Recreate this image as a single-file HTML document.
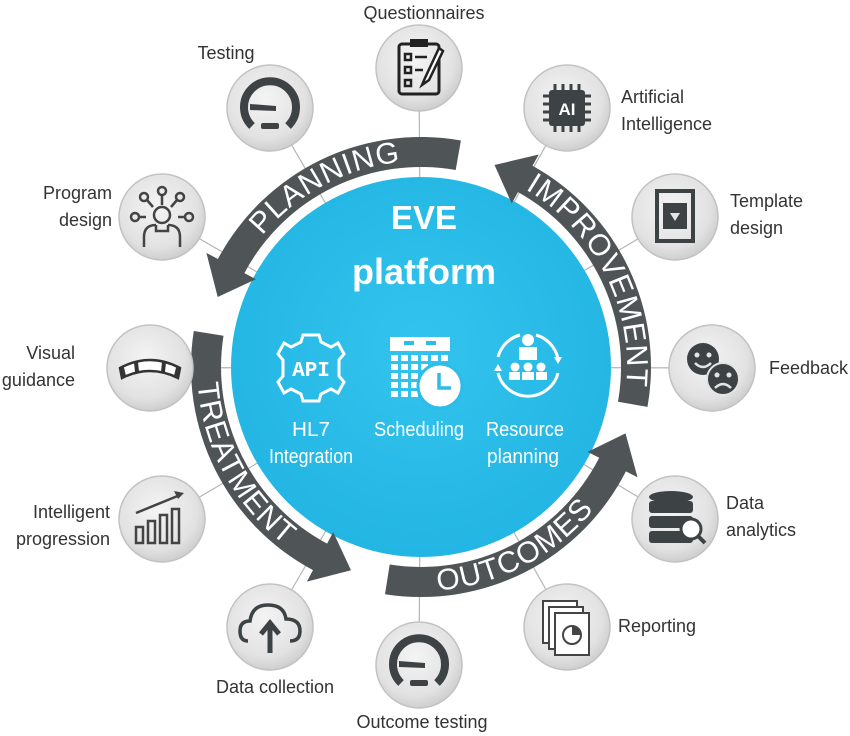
<!DOCTYPE html>
<html><head><meta charset="utf-8"><style>
html,body{margin:0;padding:0;background:#fff;width:850px;height:736px;overflow:hidden}
svg{display:block}
.lb{font-family:"Liberation Sans Narrow","Liberation Sans",sans-serif;font-size:18px;fill:#333}
.w{font-family:"Liberation Sans Narrow","Liberation Sans",sans-serif;font-size:20px;fill:#fff}
.arcT{font-family:"Liberation Sans",sans-serif;font-size:30px;fill:#fff;letter-spacing:1px}
</style></head><body>
<svg width="850" height="736" viewBox="0 0 850 736" xmlns="http://www.w3.org/2000/svg">
<defs>
<radialGradient id="gc" cx="45%" cy="40%" r="65%"><stop offset="0" stop-color="#f4f4f4"/><stop offset="0.7" stop-color="#e2e2e2"/><stop offset="1" stop-color="#c8c8c8"/></radialGradient>
<radialGradient id="bc" cx="50%" cy="45%" r="60%"><stop offset="0" stop-color="#33c4ee"/><stop offset="1" stop-color="#22b4e2"/></radialGradient>
<path id="tp1"/><path id="tp2"/><path id="tp3"/><path id="tp4"/>
</defs>
<g stroke="#b5b5b5" stroke-width="1.2" id="lines"></g>
<circle cx="421" cy="367" r="190" fill="url(#bc)"/>
<g id="arrows" fill="#4f5456"></g>
<text class="arcT"><textPath href="#tp1" startOffset="50%" text-anchor="middle">PLANNING</textPath></text>
<text class="arcT"><textPath href="#tp2" startOffset="50%" text-anchor="middle">IMPROVEMENT</textPath></text>
<text class="arcT"><textPath href="#tp3" startOffset="50%" text-anchor="middle">TREATMENT</textPath></text>
<text class="arcT"><textPath href="#tp4" startOffset="50%" text-anchor="middle">OUTCOMES</textPath></text>
<g id="circs"></g>

<text x="424" y="229" text-anchor="middle" font-family="Liberation Sans,sans-serif" font-weight="bold" font-size="33" fill="#fff">EVE</text>
<text x="424" y="284" text-anchor="middle" font-family="Liberation Sans,sans-serif" font-weight="bold" font-size="36" fill="#fff">platform</text>

<g transform="translate(311,368)" fill="none" stroke="#fff" stroke-width="3">
<path d="M-8,-33 L8,-33 L10,-26 L20,-21 L27,-25 L33,-14 L28,-8 L28,8 L33,14 L27,25 L20,21 L10,26 L8,33 L-8,33 L-10,26 L-20,21 L-27,25 L-33,14 L-28,8 L-28,-8 L-33,-14 L-27,-25 L-20,-21 L-10,-26 Z"/>
<text x="0" y="8" text-anchor="middle" font-family="Liberation Mono,monospace" font-size="21" fill="#fff" stroke="none" font-weight="bold">API</text>
</g>
<g transform="translate(390,337)" fill="#fff">
<rect x="0" y="0" width="60" height="14"/>
<rect x="14" y="4" width="10" height="4" fill="#2bbce8"/><rect x="36" y="4" width="10" height="4" fill="#2bbce8"/>
<g id="cal"></g>
<circle cx="50" cy="49" r="22" fill="#fff" stroke="#2bbce8" stroke-width="3"/>
<path d="M49,36 V51 H61" stroke="#2bbce8" stroke-width="3.5" fill="none"/>
</g>
<g transform="translate(528,365)">
<path d="M-30,-8 A31,31 0 0 1 -8,-30 M8,-30 A31,31 0 0 1 30,-6 M30,8 A31,31 0 0 1 -30,8" fill="none" stroke="#fff" stroke-width="3"/>
<path d="M26,-8 L34,-8 L30,-1Z M-26,6 L-34,6 L-30,-1Z" fill="#fff"/>
<circle cx="0" cy="-25" r="6" fill="#fff"/><rect x="-9" y="-18" width="18" height="13" fill="#fff"/>
<circle cx="-13" cy="2" r="4.5" fill="#fff"/><circle cx="0" cy="2" r="4.5" fill="#fff"/><circle cx="13" cy="2" r="4.5" fill="#fff"/>
<rect x="-19" y="7" width="11" height="8" fill="#fff"/><rect x="-6" y="7" width="12" height="8" fill="#fff"/><rect x="8" y="7" width="11" height="8" fill="#fff"/>
</g>
<text class="w" x="311" y="436" text-anchor="middle" textLength="38" lengthAdjust="spacingAndGlyphs">HL7</text>
<text class="w" x="311" y="463" text-anchor="middle" textLength="84" lengthAdjust="spacingAndGlyphs">Integration</text>
<text class="w" x="419" y="436" text-anchor="middle" textLength="90" lengthAdjust="spacingAndGlyphs">Scheduling</text>
<text class="w" x="525" y="436" text-anchor="middle" textLength="78" lengthAdjust="spacingAndGlyphs">Resource</text>
<text class="w" x="523" y="463" text-anchor="middle" textLength="72" lengthAdjust="spacingAndGlyphs">planning</text>

<text class="lb" x="424" y="19" text-anchor="middle">Questionnaires</text>
<text class="lb" x="226" y="59" text-anchor="middle">Testing</text>
<text class="lb" x="112" y="199" text-anchor="end">Program</text>
<text class="lb" x="112" y="226" text-anchor="end">design</text>
<text class="lb" x="75" y="359" text-anchor="end">Visual</text>
<text class="lb" x="75" y="386" text-anchor="end">guidance</text>
<text class="lb" x="110" y="518" text-anchor="end">Intelligent</text>
<text class="lb" x="110" y="545" text-anchor="end">progression</text>
<text class="lb" x="275" y="693" text-anchor="middle">Data collection</text>
<text class="lb" x="422" y="728" text-anchor="middle">Outcome testing</text>
<text class="lb" x="618" y="632">Reporting</text>
<text class="lb" x="726" y="509">Data</text>
<text class="lb" x="726" y="536">analytics</text>
<text class="lb" x="769" y="374">Feedback</text>
<text class="lb" x="730" y="207">Template</text>
<text class="lb" x="730" y="234">design</text>
<text class="lb" x="621" y="103">Artificial</text>
<text class="lb" x="621" y="130">Intelligence</text>
</svg>
<script>
var NS="http://www.w3.org/2000/svg",cx=421,cy=367;
function P(r,a){a*=Math.PI/180;return (cx+r*Math.cos(a)).toFixed(1)+","+(cy+r*Math.sin(a)).toFixed(1)}
function arrow(a0,a1){var d=a1>a0?1:-1,ab=a1-d*9,s=d>0?1:0,ns=1-s;
return "M"+P(230,a0)+" A230,230 0 0 "+s+" "+P(230,ab)+" L"+P(243,ab)+" L"+P(215,a1)+" L"+P(187,ab)+" L"+P(200,ab)+" A200,200 0 0 "+ns+" "+P(200,a0)+"Z";}
function tarc(r,a0,a1){var s=a1>a0?1:0;return "M"+P(r,a0)+" A"+r+","+r+" 0 0 "+s+" "+P(r,a1);}
var ar=document.getElementById("arrows");
[[-80,-161],[10,-70],[189,109],[99,18]].forEach(function(x){var p=document.createElementNS(NS,"path");p.setAttribute("d",arrow(x[0],x[1]));ar.appendChild(p);});
document.getElementById("tp1").setAttribute("d",tarc(206,-156,-80));
document.getElementById("tp2").setAttribute("d",tarc(206,-64,10));
document.getElementById("tp3").setAttribute("d",tarc(224,189,114));
document.getElementById("tp4").setAttribute("d",tarc(224,101,24));
var C=[[419,68],[270,108],[162,217],[150,368],[162,519],[270,627],[419,665],[567,627],[675,519],[712,368],[675,217],[567,108]];
var L=document.getElementById("lines"),G=document.getElementById("circs");
var gauge='<path d="M-18,18 A26,26 0 1 1 18,18" fill="none" stroke="#3d4244" stroke-width="8"/><path d="M-20,-4 L6,-2 L6,3 L-20,2Z" fill="#3d4244"/><rect x="-9" y="15" width="18" height="6" rx="2" fill="#3d4244"/>';
var icons=[
'<rect x="-20" y="-24" width="40" height="50" rx="3" fill="none" stroke="#222" stroke-width="3"/><rect x="-9" y="-29" width="18" height="8" fill="#222"/><g fill="none" stroke="#222" stroke-width="2.5"><rect x="-14" y="-14" width="6" height="6"/><rect x="-14" y="-1" width="6" height="6"/><rect x="-14" y="12" width="6" height="6"/><path d="M-4,-11 H8 M-4,2 H4"/></g><path d="M20,-20 L6,10 L3,17 L10,12 L24,-17Z" fill="#fff" stroke="#222" stroke-width="2.5"/>',
gauge,
'<g fill="none" stroke="#444" stroke-width="2.5"><circle cx="0" cy="-26" r="4"/><circle cx="-18" cy="-20" r="4"/><circle cx="18" cy="-20" r="4"/><circle cx="-27" cy="0" r="4"/><circle cx="27" cy="0" r="4"/><path d="M0,-22V-12 M-15,-17 L-9,-10 M15,-17 L9,-10 M-23,0H-16 M23,0H16"/><circle cx="0" cy="-2" r="8"/><path d="M-18,30 V20 Q-18,8 -6,8 M18,30 V20 Q18,8 6,8 M-6,8 V14 H6 V8"/></g>',
'<path d="M-30,0 Q0,-16 30,0 L28,10 Q0,-4 -28,10Z" fill="#fff" stroke="#333" stroke-width="2.5"/><path d="M-28,0 L-26,8 M-14,-6 L-13,4 M14,-6 L13,4 M28,0 L26,8" stroke="#333" stroke-width="4"/>',
'<g fill="none" stroke="#444" stroke-width="2.5"><rect x="-26" y="8" width="7" height="16"/><rect x="-14" y="2" width="7" height="22"/><rect x="-2" y="-4" width="7" height="28"/><rect x="10" y="-10" width="7" height="34"/><path d="M-26,-6 L18,-24"/></g><path d="M22,-26 L12,-28 L16,-20Z" fill="#444"/>',
'<path d="M-22,14 Q-30,14 -30,4 Q-30,-6 -20,-6 Q-18,-22 -2,-22 Q14,-22 16,-8 Q30,-8 30,4 Q30,14 20,14" fill="none" stroke="#3d4244" stroke-width="3.5"/><path d="M0,26 V-2 M-9,7 L0,-4 L9,7" fill="none" stroke="#3d4244" stroke-width="5"/>',
gauge,
'<g fill="#fff" stroke="#444" stroke-width="2"><rect x="-24" y="-26" width="34" height="42"/><rect x="-18" y="-20" width="34" height="42"/><rect x="-12" y="-14" width="34" height="42"/></g><circle cx="5" cy="8" r="9" fill="none" stroke="#444" stroke-width="2"/><path d="M5,8 V-1 A9,9 0 0 1 14,8Z" fill="#444"/>',
'<g fill="#3d4244"><ellipse cx="-4" cy="-22" rx="22" ry="6"/><rect x="-26" y="-18" width="44" height="12" rx="3"/><rect x="-26" y="-3" width="44" height="12" rx="3"/><rect x="-26" y="12" width="44" height="12" rx="3"/></g><circle cx="16" cy="10" r="10" fill="#fff" stroke="#3d4244" stroke-width="3"/><path d="M23,17 L30,24" stroke="#3d4244" stroke-width="4"/>',
'<circle cx="-9" cy="-9" r="16" fill="#3d4244"/><circle cx="11" cy="11" r="16" fill="#3d4244" stroke="#e4e4e4" stroke-width="2"/><g fill="#e4e4e4"><circle cx="-15" cy="-13" r="2.5"/><circle cx="-3" cy="-13" r="2.5"/><circle cx="5" cy="7" r="2.5"/><circle cx="17" cy="7" r="2.5"/></g><path d="M-17,-5 Q-9,3 -1,-5" fill="none" stroke="#e4e4e4" stroke-width="2.5"/><path d="M3,20 Q11,12 19,20" fill="none" stroke="#e4e4e4" stroke-width="2.5"/>',
'<rect x="-18" y="-26" width="36" height="50" fill="none" stroke="#3d4244" stroke-width="4"/><rect x="-12" y="-14" width="24" height="26" fill="#3d4244"/><path d="M-5,-4 H5 L0,4Z" fill="#e4e4e4"/>',
'<rect x="-18" y="-18" width="36" height="36" rx="3" fill="#3d4244"/><g stroke="#3d4244" stroke-width="3"><path d="M-12,-24V24 M-4,-24V24 M4,-24V24 M12,-24V24 M-24,-12H24 M-24,-4H24 M-24,4H24 M-24,12H24"/></g><rect x="-14" y="-14" width="28" height="28" fill="#3d4244"/><text x="0" y="7" text-anchor="middle" font-family="Liberation Sans,sans-serif" font-weight="bold" font-size="17" fill="#fff">AI</text>'
];
C.forEach(function(c,i){var l=document.createElementNS(NS,"line");l.setAttribute("x1",c[0]);l.setAttribute("y1",c[1]);l.setAttribute("x2",cx+(c[0]-cx)*0.6);l.setAttribute("y2",cy+(c[1]-cy)*0.6);L.appendChild(l);
var g=document.createElementNS(NS,"g");g.setAttribute("transform","translate("+c[0]+","+c[1]+")");
g.innerHTML='<circle r="43" fill="url(#gc)" stroke="#c2c2c2" stroke-width="1.5"/>'+icons[i];G.appendChild(g);});
var cal=document.getElementById("cal"),h="";
for(var r=0;r<5;r++)for(var k=0;k<6;k++)h+='<rect x="'+(k*10+1)+'" y="'+(18+r*9)+'" width="7" height="6"/>';
cal.innerHTML=h;
</script>
</body></html>
